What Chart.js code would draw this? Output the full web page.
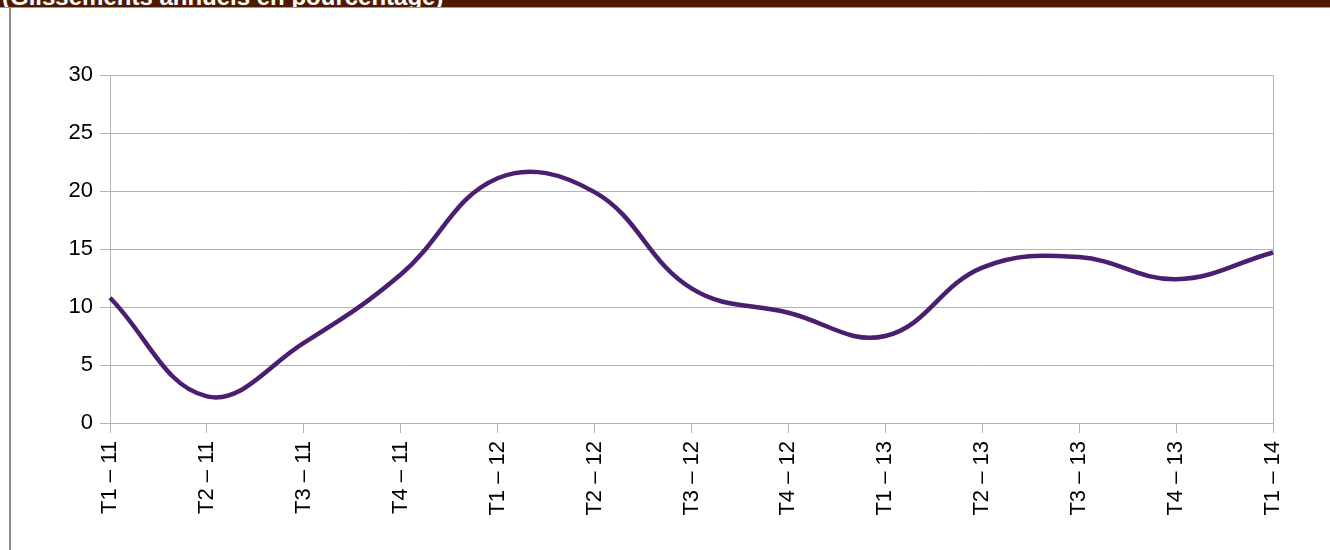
<!DOCTYPE html>
<html>
<head>
<meta charset="utf-8">
<script src="https://cdn.jsdelivr.net/npm/chart.js@4"></script>
<style>
    html, body { margin: 0; padding: 0; background: #fff; }
    #cadre { position: relative; width: 1330px; height: 550px; overflow: hidden; }
    #bandeau {
        position: absolute; left: 0; top: 0; width: 1330px; height: 7px;
        background: #4d1a00; border-bottom: 1px solid #9a9a9a;
        overflow: hidden; z-index: 2;
    }
    #bandeau span {
        position: absolute; left: 2px; top: -15px;
        font: bold 24px "Liberation Sans", Arial, sans-serif; line-height: 24px;
        color: #fff; white-space: nowrap;
    }
    #bord { position: absolute; left: 9px; top: 8px; width: 2px; height: 542px; background: #8c8c8c; z-index: 2; }
    #graphique { position: absolute; left: 0; top: 0; }
</style>
</head>
<body>
<div id="cadre">
    <div id="bandeau"><span>(Glissements annuels en pourcentage)</span></div>
    <div id="bord"></div>
    <canvas id="graphique" width="1330" height="550"></canvas>
</div>
<script>
// Données
const trimestres = ['T1 – 11', 'T2 – 11', 'T3 – 11', 'T4 – 11',
                    'T1 – 12', 'T2 – 12', 'T3 – 12', 'T4 – 12',
                    'T1 – 13', 'T2 – 13', 'T3 – 13', 'T4 – 13', 'T1 – 14'];
const glissements = [10.8, 2.3, 6.9, 12.8, 21.1, 19.9, 11.6, 9.5, 7.5, 13.4, 14.3, 12.4, 14.7];
const graduationsY = [0, 5, 10, 15, 20, 25, 30];

const police = '"Liberation Sans", Arial, sans-serif';
const gris = '#b3b3b3';

const ctx = document.getElementById('graphique');

new Chart(ctx, {
    type: 'line',
    data: {
        labels: trimestres,
        datasets: [{
            data: glissements,
            borderColor: '#4b1f6f',
            borderWidth: 4.5,
            pointRadius: 0,
            tension: 0.4,
            fill: false
        }]
    },
    options: {
        responsive: false,
        animation: false,
        layout: {
            padding: { left: 0, top: 75, right: 57, bottom: 0 }
        },
        plugins: {
            legend: { display: false },
            tooltip: { enabled: false }
        },
        scales: {
            x: {
                type: 'category',
                offset: false,
                afterFit: (echelle) => { echelle.height = 127; },
                grid: {
                    // seule la dernière ligne verticale (bord droit) est visible
                    color: (c) => c.index === trimestres.length - 1 ? gris : 'rgba(0,0,0,0)',
                    tickColor: gris,
                    tickLength: 10,
                    lineWidth: 1
                },
                border: { display: true, color: gris },
                ticks: {
                    autoSkip: false,
                    maxRotation: 90,
                    minRotation: 90,
                    padding: 8,
                    color: '#000',
                    font: { family: police, size: 22 }
                }
            },
            y: {
                min: graduationsY[0],
                max: graduationsY[graduationsY.length - 1],
                afterFit: (echelle) => { echelle.width = 110; },
                afterBuildTicks: (echelle) => {
                    echelle.ticks = graduationsY.map(v => ({ value: v }));
                },
                grid: {
                    color: gris,
                    tickColor: gris,
                    tickLength: 10,
                    lineWidth: 1
                },
                border: { display: true, color: gris },
                ticks: {
                    padding: 7,
                    color: '#000',
                    font: { family: police, size: 22 }
                }
            }
        }
    }
});
</script>
</body>
</html>
